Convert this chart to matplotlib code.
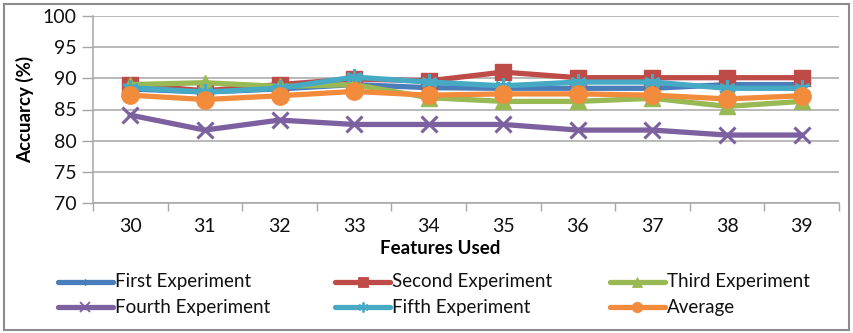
import matplotlib
matplotlib.use("Agg")
import matplotlib.pyplot as plt
from matplotlib.lines import Line2D
from matplotlib.patches import Rectangle

plt.rcParams['font.family'] = ['Lato', 'DejaVu Sans']

# accuracy per number of features, one list per run
features = [30, 31, 32, 33, 34, 35, 36, 37, 38, 39]
first = [88.3, 87.8, 88.3, 89.0, 88.5, 88.4, 88.4, 88.4, 89.0, 89.0]
second = [89.0, 88.0, 89.0, 89.9, 89.6, 91.0, 90.1, 90.1, 90.1, 90.1]
third = [89.0, 89.3, 88.7, 89.0, 86.9, 86.3, 86.3, 86.8, 85.5, 86.3]
fourth = [84.1, 81.7, 83.3, 82.6, 82.6, 82.6, 81.7, 81.7, 80.9, 80.9]
fifth = [88.5, 87.8, 88.4, 90.2, 89.4, 88.8, 89.4, 89.4, 88.4, 88.4]
average = [87.3, 86.6, 87.2, 87.9, 87.3, 87.5, 87.5, 87.3, 86.7, 87.2]

series = [
    ("First Experiment", first, '#4A7EBB', 'D', 5, 1),
    ("Second Experiment", second, '#BE4B48', 's', 11, 1),
    ("Third Experiment", third, '#98B954', '^', 12, 1),
    ("Fourth Experiment", fourth, '#7D60A0', 'x', 11, 2.2),
    ("Fifth Experiment", fifth, '#46AAC5', (6, 2, 0), 12, 2.2),
    ("Average", average, '#F28C3C', 'o', 12.5, 1),
]

W, H = 854, 333
fig = plt.figure(figsize=(W / 100, H / 100), dpi=100)
fig.patch.set_facecolor('white')
fig.patches.append(Rectangle((4 / W, 3 / H), 845 / W, 326 / H, transform=fig.transFigure,
                             fill=False, edgecolor='#8C8C8C', linewidth=1.5))

ax = fig.add_axes([93 / W, 1 - 203 / H, 746 / W, 187 / H])
xs = list(range(len(features)))

for name, vals, col, mk, ms, mew in series:
    ax.plot(xs, vals, color=col, lw=3.8, marker=mk, markersize=ms,
            markerfacecolor=col, markeredgecolor=col, markeredgewidth=mew,
            label=name, solid_joinstyle='round')

ax.set_ylim(70, 100)
ax.set_xlim(-0.5, len(features) - 0.5)
ax.set_yticks(range(70, 101, 5))
ax.yaxis.grid(True, color='#A6A6A6', lw=1.1)
ax.set_axisbelow(True)
ax.tick_params(axis='y', length=8, width=1, color='#A6A6A6', labelsize=14,
               labelcolor='#111111', pad=4)

# category ticks sit between the points, labels at the points
ax.set_xticks([i - 0.5 for i in range(len(features) + 1)])
ax.set_xticklabels([])
ax.set_xticks(xs, minor=True)
ax.set_xticklabels([str(f) for f in features], minor=True)
ax.tick_params(axis='x', which='major', length=6, width=1, color='#A6A6A6')
ax.tick_params(axis='x', which='minor', length=0, labelsize=14, labelcolor='#111111', pad=11)

for s in ['top', 'right']:
    ax.spines[s].set_visible(False)
for s in ['left', 'bottom']:
    ax.spines[s].set_color('#A6A6A6')
    ax.spines[s].set_linewidth(1.1)

ax.set_ylabel("Accuarcy (%)", fontsize=13.5, fontweight='bold', labelpad=6)
fig.text(440 / W, 1 - 249 / H, "Features Used", ha='center', va='center',
         fontsize=13.5, fontweight='bold')

# legend, laid out in two rows of three
col_x = [58, 335, 610]
row_y = [282, 307]
for i, (name, vals, col, mk, ms, mew) in enumerate(series):
    x0 = col_x[i % 3]
    y0 = 1 - row_y[i // 3] / H
    fig.add_artist(Line2D([x0 / W, (x0 + 55) / W], [y0, y0], transform=fig.transFigure,
                          color=col, lw=3.8, solid_capstyle='round'))
    fig.add_artist(Line2D([(x0 + 27.5) / W], [y0], transform=fig.transFigure,
                          marker=mk, markersize=ms * 0.6, color=col,
                          markeredgewidth=mew * 0.6, linestyle='none'))
    fig.text((x0 + 57) / W, y0, name, ha='left', va='center', fontsize=13.5, color='#111111')

fig.savefig("out.png", dpi=100)
